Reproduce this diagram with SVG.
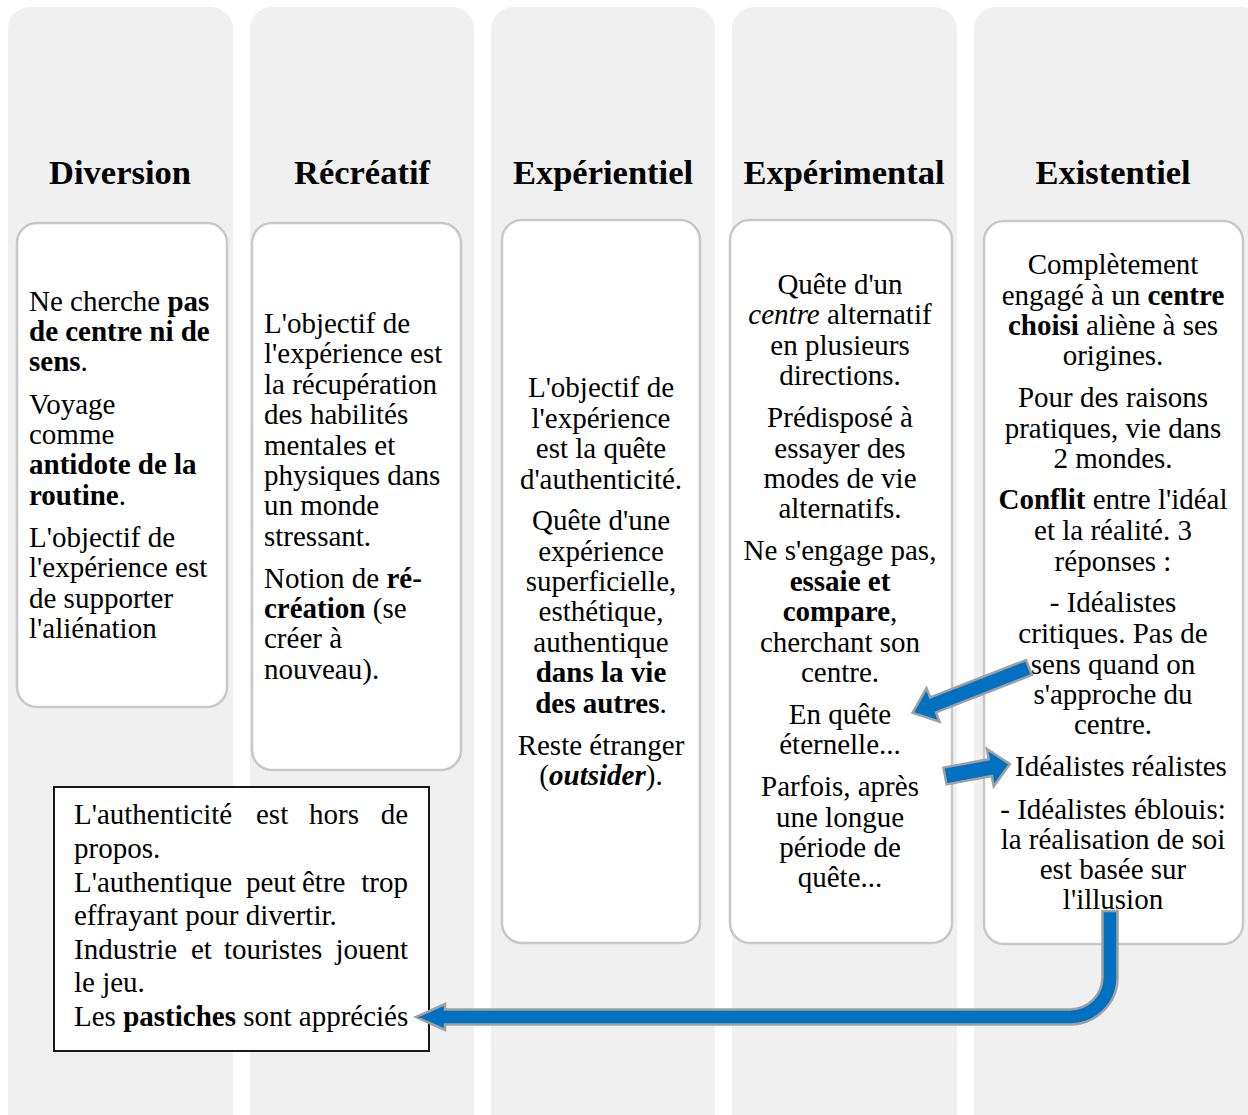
<svg xmlns="http://www.w3.org/2000/svg" width="1248" height="1115" viewBox="0 0 1248 1115">
<style>
.col{fill:#f0f0f0;}
.box{fill:#ffffff;stroke:#c8c8c8;stroke-width:2.5;}
.h{font-family:"Liberation Serif","Times New Roman",serif;font-size:34.5px;font-weight:bold;fill:#000;text-anchor:middle;}
.t{font-family:"Liberation Serif","Times New Roman",serif;font-size:29px;fill:#000;}
.c{text-anchor:middle;}
.b{font-weight:bold;}
.i{font-style:italic;}
.arr{fill:#0070c0;stroke:#a0a0a0;stroke-width:2.5;stroke-linejoin:miter;}
</style>
<rect width="1248" height="1115" fill="#ffffff"/>
<g id="columns">
<rect class="col" x="8" y="7" width="225" height="1130" rx="22"/>
<rect class="col" x="250" y="7" width="224" height="1130" rx="22"/>
<rect class="col" x="491" y="7" width="224" height="1130" rx="22"/>
<rect class="col" x="732" y="7" width="225" height="1130" rx="22"/>
<rect class="col" x="974" y="7" width="290" height="1130" rx="22"/>
</g>
<g id="diversion">
<text class="h" x="120" y="184">Diversion</text>
<rect class="box" x="17" y="223" width="210" height="484" rx="20"/>
<text class="t" x="29" y="311">Ne cherche <tspan class="b">pas</tspan></text>
<text class="t b" x="29" y="341">de centre ni de</text>
<text class="t" x="29" y="371"><tspan class="b">sens</tspan>.</text>
<text class="t" x="29" y="414">Voyage</text>
<text class="t" x="29" y="444">comme</text>
<text class="t b" x="29" y="474">antidote de la</text>
<text class="t" x="29" y="505"><tspan class="b">routine</tspan>.</text>
<text class="t" x="29" y="547">L'objectif de</text>
<text class="t" x="29" y="577">l'expérience est</text>
<text class="t" x="29" y="608">de supporter</text>
<text class="t" x="29" y="638">l'aliénation</text>
</g>
<g id="recreatif">
<text class="h" x="362" y="184">Récréatif</text>
<rect class="box" x="252" y="223" width="209" height="547" rx="20"/>
<text class="t" x="264" y="333">L'objectif de</text>
<text class="t" x="264" y="363">l'expérience est</text>
<text class="t" x="264" y="394">la récupération</text>
<text class="t" x="264" y="424">des habilités</text>
<text class="t" x="264" y="455">mentales et</text>
<text class="t" x="264" y="485">physiques dans</text>
<text class="t" x="264" y="515">un monde</text>
<text class="t" x="264" y="546">stressant.</text>
<text class="t" x="264" y="588">Notion de <tspan class="b">ré-</tspan></text>
<text class="t" x="264" y="618"><tspan class="b">création</tspan> (se</text>
<text class="t" x="264" y="648">créer à</text>
<text class="t" x="264" y="679">nouveau).</text>
</g>
<g id="experientiel">
<text class="h" x="603" y="184">Expérientiel</text>
<rect class="box" x="502" y="220" width="198" height="723" rx="20"/>
<text class="t c" x="601" y="397">L'objectif de</text>
<text class="t c" x="601" y="428">l'expérience</text>
<text class="t c" x="601" y="458">est la quête</text>
<text class="t c" x="601" y="489">d'authenticité.</text>
<text class="t c" x="601" y="530">Quête d'une</text>
<text class="t c" x="601" y="561">expérience</text>
<text class="t c" x="601" y="591">superficielle,</text>
<text class="t c" x="601" y="621">esthétique,</text>
<text class="t c" x="601" y="652">authentique</text>
<text class="t c b" x="601" y="682">dans la vie</text>
<text class="t c" x="601" y="713"><tspan class="b">des autres</tspan>.</text>
<text class="t c" x="601" y="755">Reste étranger</text>
<text class="t c" x="601" y="785">(<tspan class="b i">outsider</tspan>).</text>
</g>
<g id="experimental">
<text class="h" x="844" y="184">Expérimental</text>
<rect class="box" x="730" y="220" width="222" height="723" rx="20"/>
<text class="t c" x="840" y="294">Quête d'un</text>
<text class="t c" x="840" y="324"><tspan class="i">centre</tspan> alternatif</text>
<text class="t c" x="840" y="355">en plusieurs</text>
<text class="t c" x="840" y="385">directions.</text>
<text class="t c" x="840" y="427">Prédisposé à</text>
<text class="t c" x="840" y="458">essayer des</text>
<text class="t c" x="840" y="488">modes de vie</text>
<text class="t c" x="840" y="518">alternatifs.</text>
<text class="t c" x="840" y="560">Ne s'engage pas,</text>
<text class="t c b" x="840" y="591">essaie et</text>
<text class="t c" x="840" y="621"><tspan class="b">compare</tspan>,</text>
<text class="t c" x="840" y="652">cherchant son</text>
<text class="t c" x="840" y="682">centre.</text>
<text class="t c" x="840" y="724">En quête</text>
<text class="t c" x="840" y="754">éternelle...</text>
<text class="t c" x="840" y="796">Parfois, après</text>
<text class="t c" x="840" y="827">une longue</text>
<text class="t c" x="840" y="857">période de</text>
<text class="t c" x="840" y="887">quête...</text>
</g>
<g id="existentiel">
<text class="h" x="1113" y="184">Existentiel</text>
<rect class="box" x="984" y="221" width="259" height="723" rx="20"/>
<text class="t c" x="1113" y="274">Complètement</text>
<text class="t c" x="1113" y="305">engagé à un <tspan class="b">centre</tspan></text>
<text class="t c" x="1113" y="335"><tspan class="b">choisi</tspan> aliène à ses</text>
<text class="t c" x="1113" y="365">origines.</text>
<text class="t c" x="1113" y="407">Pour des raisons</text>
<text class="t c" x="1113" y="438">pratiques, vie dans</text>
<text class="t c" x="1113" y="468">2 mondes.</text>
<text class="t c" x="1113" y="509"><tspan class="b">Conflit</tspan> entre l'idéal</text>
<text class="t c" x="1113" y="540">et la réalité. 3</text>
<text class="t c" x="1113" y="571">réponses :</text>
<text class="t c" x="1113" y="612">- Idéalistes</text>
<text class="t c" x="1113" y="643">critiques. Pas de</text>
<text class="t c" x="1113" y="674">sens quand on</text>
<text class="t c" x="1113" y="704">s'approche du</text>
<text class="t c" x="1113" y="734">centre.</text>
<text class="t c" x="1121" y="776">Idéalistes réalistes</text>
<text class="t c" x="1113" y="819">- Idéalistes éblouis:</text>
<text class="t c" x="1113" y="849">la réalisation de soi</text>
<text class="t c" x="1113" y="879">est basée sur</text>
<text class="t c" x="1113" y="909">l'illusion</text>
</g>
<g id="authenticite">
<rect x="54" y="787" width="375" height="264" fill="#ffffff" stroke="#000000" stroke-width="1.8"/>
<text class="t" x="74" y="824">L'authenticité</text>
<text class="t" x="256" y="824">est</text>
<text class="t" x="309" y="824">hors</text>
<text class="t" x="408" y="824" text-anchor="end">de</text>
<text class="t" x="74" y="858">propos.</text>
<text class="t" x="74" y="892">L'authentique</text>
<text class="t" x="246" y="892">peut</text>
<text class="t" x="302" y="892">être</text>
<text class="t" x="408" y="892" text-anchor="end">trop</text>
<text class="t" x="74" y="925">effrayant pour divertir.</text>
<text class="t" x="74" y="959">Industrie</text>
<text class="t" x="191" y="959">et</text>
<text class="t" x="224" y="959">touristes</text>
<text class="t" x="408" y="959" text-anchor="end">jouent</text>
<text class="t" x="74" y="992">le jeu.</text>
<text class="t" x="74" y="1026">Les <tspan class="b">pastiches</tspan> sont appréciés</text>
</g>
<g id="connectors">
<polygon class="arr" transform="translate(1029,667.5) rotate(158.7)" points="0,-8 103,-8 103,-18 125,0 103,18 103,8 0,8"/>
<polygon class="arr" transform="translate(945,776) rotate(-10.5)" points="0,-8.5 46,-8.5 46,-19 66,0 46,19 46,8.5 0,8.5"/>
<path class="arr" d="M1117.5,911 L1117.5,977 A47.5,47.5 0 0 1 1070,1024.5 L445,1024.5 L445,1030 L416,1017 L445,1004 L445,1009.5 L1070,1009.5 A32.5,32.5 0 0 0 1102.5,977 L1102.5,911 Z"/>
</g>
</svg>
